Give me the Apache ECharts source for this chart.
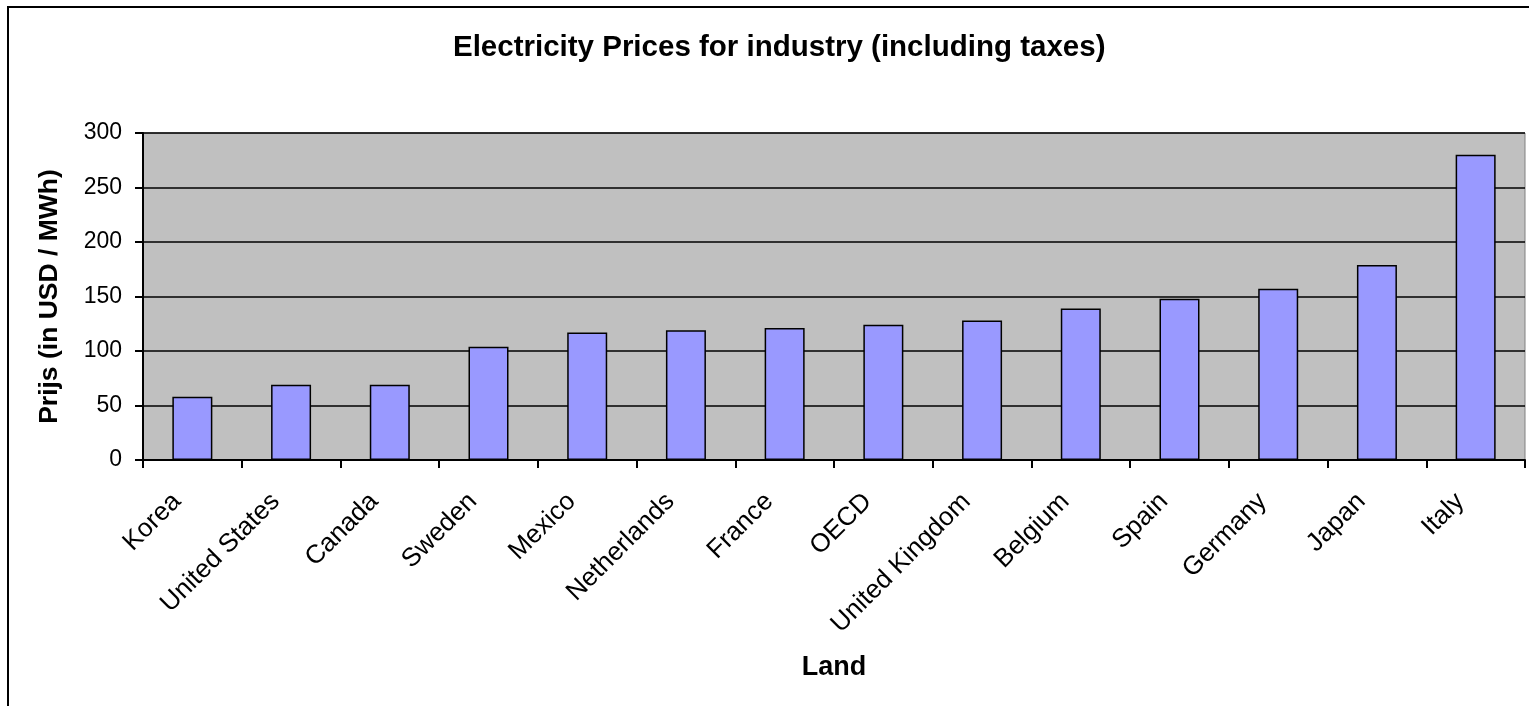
<!DOCTYPE html>
<html>
<head>
<meta charset="utf-8">
<script src="https://cdn.jsdelivr.net/npm/echarts@6/dist/echarts.min.js"></script>
<style>
html,body{margin:0;padding:0;background:#fff;}
#c{width:1529px;height:706px;}
</style>
</head>
<body>
<div id="c"></div>
<script>
const categories = ['Korea','United States','Canada','Sweden','Mexico','Netherlands','France','OECD','United Kingdom','Belgium','Spain','Germany','Japan','Italy'];
const prices = [58, 69, 69, 104, 117, 119, 121, 124, 128, 139, 148, 157, 179, 280];
const titleText = 'Electricity Prices for industry (including taxes)';
const yName = 'Prijs (in USD / MWh)';
const xName = 'Land';

const chart = echarts.init(document.getElementById('c'), null, {renderer: 'canvas'});
const FONT = 'Liberation Sans, Arial, sans-serif';
chart.setOption({
  backgroundColor: '#ffffff',
  animation: false,
  title: {
    text: titleText,
    left: 448,
    top: 28,
    textStyle: {fontFamily: FONT, fontSize: 29.5, fontWeight: 'bold', color: '#000'}
  },
  graphic: [{
    type: 'rect',
    shape: {x: 8, y: 7, width: 1540, height: 720},
    style: {fill: 'none', stroke: '#000', lineWidth: 2},
    silent: true, z: 0
  }],
  grid: {
    left: 143, right: 4, top: 133, bottom: 246,
    show: true, backgroundColor: '#c0c0c0', borderColor: '#808080', borderWidth: 1
  },
  xAxis: {
    type: 'category',
    data: categories,
    name: xName,
    nameLocation: 'middle',
    nameGap: 194,
    nameTextStyle: {fontFamily: FONT, fontSize: 27, fontWeight: 'bold', color: '#000'},
    axisLine: {show: true, lineStyle: {color: '#000', width: 2}},
    axisTick: {show: true, length: 8, lineStyle: {color: '#000', width: 2}},
    axisLabel: {
      interval: 0, rotate: 45, margin: 22,
      padding: [0, 22, 0, 0],
      fontFamily: FONT, fontSize: 26, color: '#000'
    },
    splitLine: {show: false}
  },
  yAxis: {
    type: 'value',
    min: 0, max: 300, interval: 50,
    name: yName,
    nameLocation: 'middle',
    nameGap: 80,
    nameTextStyle: {fontFamily: FONT, fontSize: 26.5, fontWeight: 'bold', color: '#000'},
    axisLine: {show: true, lineStyle: {color: '#000', width: 2}},
    axisTick: {show: true, length: 8, lineStyle: {color: '#000', width: 2}},
    axisLabel: {margin: 21, fontFamily: FONT, fontSize: 23, color: '#000'},
    splitLine: {show: true, lineStyle: {color: '#000', width: 1.5}}
  },
  series: [{
    type: 'bar',
    data: prices,
    barWidth: 40,
    itemStyle: {color: '#9999ff', borderColor: '#000', borderWidth: 1.5}
  }]
});
</script>
</body>
</html>
